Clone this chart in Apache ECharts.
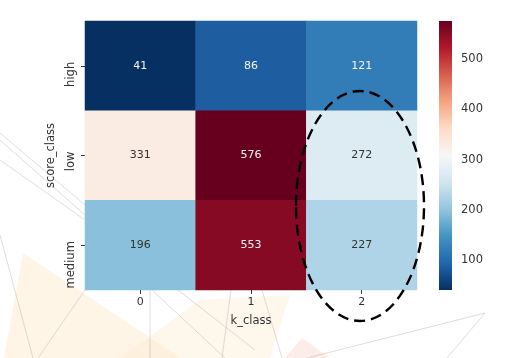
<!DOCTYPE html>
<html>
<head>
<meta charset="utf-8">
<script src="https://cdn.jsdelivr.net/npm/echarts@6/dist/echarts.min.js"></script>
<style>html,body{margin:0;padding:0;background:#fff;}#c{width:514px;height:358px;}</style>
</head>
<body>
<div id="c"></div>
<script>
// ---- data ----
var kClasses = ['0', '1', '2'];
var scoreClasses = ['high', 'low', 'medium'];
var rowHigh = [41, 86, 121];
var rowLow = [331, 576, 272];
var rowMedium = [196, 553, 227];
var colorbarTicks = [100, 200, 300, 400, 500];
var valueMin = 41;
var valueMax = 576;

var rows = [rowHigh, rowLow, rowMedium];
var FONT = 'DejaVu Sans';
var TXT = '#333333';
var RdBu_r = ['#053061', '#2166ac', '#4393c3', '#92c5de', '#d1e5f0', '#f7f7f7',
              '#fddbc7', '#f4a582', '#d6604d', '#b2182b', '#67001f'];

var cells = [];
rows.forEach(function (row, yi) {
  row.forEach(function (v, xi) {
    var dark = (v < 150 || v > 450);
    cells.push({ value: [xi, yi, v], label: { color: dark ? '#f5f5f5' : '#333333' } });
  });
});

var chart = echarts.init(document.getElementById('c'), null, { renderer: 'canvas' });

var bgFill = 'rgba(253,225,185,0.35)';
var bgLine = 'rgba(160,160,160,0.5)';

function line(p1, p2) {
  return { type: 'polyline', z: -9, silent: true, shape: { points: [p1, p2] },
           style: { stroke: bgLine, lineWidth: 0.7, fill: null } };
}

chart.setOption({
  backgroundColor: '#ffffff',
  animation: false,
  graphic: [
    // faint background decoration
    { type: 'polygon', z: -10, silent: true, shape: { points: [[23,253],[4,358],[180,358]] }, style: { fill: bgFill } },
    { type: 'polygon', z: -10, silent: true, shape: { points: [[120,358],[200,300],[290,295],[270,358]] }, style: { fill: 'rgba(253,232,200,0.35)' } },
    { type: 'polygon', z: -10, silent: true, shape: { points: [[302,338],[285,358],[330,358]] }, style: { fill: 'rgba(250,215,205,0.45)' } },
    line([0,133],[85,205]),
    line([0,140],[85,215]),
    line([0,160],[85,220]),
    line([0,235],[33,358]),
    line([85,290],[38,358]),
    line([150,290],[150,358]),
    line([152,290],[225,358]),
    line([178,290],[255,350]),
    line([231,290],[222,358]),
    line([262,290],[282,358]),
    { type: 'polyline', z: -9, silent: true, shape: { points: [[307,358],[485,313],[447,358]] }, style: { stroke: bgLine, lineWidth: 0.7, fill: null } },
    // dashed ellipse annotation
    { type: 'ellipse', z: 100, silent: true, shape: { cx: 360, cy: 206, rx: 64, ry: 115 },
      style: { fill: null, stroke: '#000000', lineWidth: 2.4, lineDash: [11, 6] } }
  ],
  grid: [
    { left: 85, top: 21, width: 332, height: 269 },
    { left: 439, top: 21, width: 13, height: 269 }
  ],
  xAxis: [
    { type: 'category', gridIndex: 0, data: kClasses,
      name: 'k_class', nameLocation: 'middle', nameGap: 25,
      nameTextStyle: { fontFamily: FONT, fontSize: 11.5, color: TXT },
      axisLine: { show: false },
      axisTick: { show: true, alignWithLabel: true, length: 4, lineStyle: { color: TXT } },
      axisLabel: { fontFamily: FONT, fontSize: 11, color: TXT, margin: 7 },
      splitLine: { show: false } },
    { type: 'value', gridIndex: 1, min: 0, max: 1, show: false }
  ],
  yAxis: [
    { type: 'category', gridIndex: 0, data: scoreClasses, inverse: true,
      name: 'score_class', nameLocation: 'middle', nameGap: 24, nameRotate: 90,
      nameTextStyle: { fontFamily: FONT, fontSize: 11.5, color: TXT },
      axisLine: { show: false },
      axisTick: { show: true, alignWithLabel: true, length: 4, lineStyle: { color: TXT } },
      axisLabel: { fontFamily: FONT, fontSize: 11.5, color: TXT, rotate: 90, margin: 8,
                   align: 'right', verticalAlign: 'bottom', padding: [0, -4, 0, 0] },
      splitLine: { show: false } },
    { type: 'value', gridIndex: 1, position: 'right', min: valueMin, max: valueMax,
      axisLine: { show: false },
      axisTick: { show: true, length: 4, customValues: colorbarTicks, lineStyle: { color: TXT } },
      axisLabel: { fontFamily: FONT, fontSize: 11.5, color: TXT, margin: 9, customValues: colorbarTicks },
      splitLine: { show: false } }
  ],
  visualMap: {
    show: false, type: 'continuous', seriesIndex: 0, min: valueMin, max: valueMax,
    inRange: { color: RdBu_r }
  },
  series: [{
    type: 'heatmap', xAxisIndex: 0, yAxisIndex: 0, data: cells,
    label: { show: true, fontFamily: FONT, fontSize: 11,
      formatter: function (p) { return p.value[2]; } },
    itemStyle: { borderWidth: 0 },
    emphasis: { disabled: true }
  }, {
    // colorbar drawn through the colorbar axis
    type: 'custom', xAxisIndex: 1, yAxisIndex: 1, silent: true,
    data: [[0, valueMin, 1, valueMax]],
    renderItem: function (params, api) {
      var p0 = api.coord([api.value(0), api.value(1)]);
      var p1 = api.coord([api.value(2), api.value(3)]);
      var stops = RdBu_r.map(function (c, i) { return { offset: i / (RdBu_r.length - 1), color: c }; });
      return {
        type: 'rect',
        shape: { x: p0[0], y: p1[1], width: p1[0] - p0[0], height: p0[1] - p1[1] },
        style: { fill: new echarts.graphic.LinearGradient(0, 1, 0, 0, stops) }
      };
    }
  }]
});
</script>
</body>
</html>
